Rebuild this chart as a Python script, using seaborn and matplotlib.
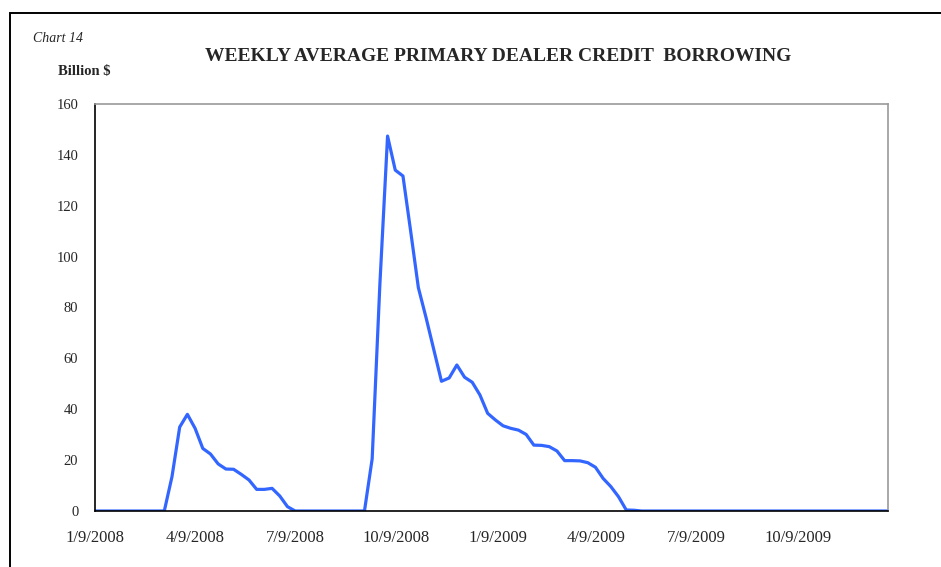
import matplotlib
matplotlib.use("Agg")
import matplotlib.pyplot as plt
import matplotlib.patches as mpatches
import seaborn as sns
import pandas as pd

# weekly averages, Wednesdays from 1/9/2008 to 12/30/2009 (billion $)
week_start = "2008-01-09"
n_weeks = 104
borrowing = (
    [0.0] * 10
    + [13.5, 33.0, 38.0, 32.5, 24.6, 22.4, 18.5, 16.5, 16.4, 14.4,
       12.2, 8.5, 8.5, 8.9, 5.9, 1.7]
    + [0.0] * 10
    + [20.5, 89.0, 147.4, 134.0, 131.7, 110.0, 87.8, 76.0, 63.5, 51.0,
       52.3, 57.4, 52.6, 50.6, 45.6, 38.4, 35.8, 33.5, 32.5, 31.8,
       30.1, 25.9, 25.8, 25.3, 23.6, 19.8, 19.8, 19.7, 19.0, 17.2,
       12.8, 9.6, 5.6, 0.4, 0.3]
    + [0.0] * 33
)
tick_dates = ["2008-01-09", "2008-04-09", "2008-07-09", "2008-10-09",
              "2009-01-09", "2009-04-09", "2009-07-09", "2009-10-09"]
tick_labels = ["1/9/2008", "4/9/2008", "7/9/2008", "10/9/2008",
               "1/9/2009", "4/9/2009", "7/9/2009", "10/9/2009"]

df = pd.DataFrame({
    "week": pd.date_range(week_start, periods=n_weeks, freq="7D"),
    "borrowing": borrowing,
})

sns.set_style("white")
plt.rcParams["font.family"] = ["Liberation Serif", "DejaVu Serif"]

fig = plt.figure(figsize=(9.41, 5.67), dpi=100)
ax = fig.add_axes([95 / 941, 56 / 567, 793 / 941, 407 / 567])

sns.lineplot(data=df, x="week", y="borrowing", color="#3366ff",
             linewidth=2.3, ax=ax)

ax.set_xlim(df["week"].iloc[0], df["week"].iloc[-1])
ax.set_ylim(0, 160)
ax.set_yticks(range(0, 161, 20))
ax.set_xticks(pd.to_datetime(tick_dates))
ax.set_xticklabels(tick_labels)
ax.set_xlabel("")
ax.set_ylabel("")
ax.tick_params(axis="both", direction="out", length=4, width=1,
               color="black")
ax.tick_params(axis="x", pad=10, labelsize=12)
ax.tick_params(axis="y", pad=8, labelsize=10.5)

for side in ["left", "bottom"]:
    ax.spines[side].set_color("black")
    ax.spines[side].set_linewidth(1.2)
for side in ["top", "right"]:
    ax.spines[side].set_color("#999999")
    ax.spines[side].set_linewidth(1.2)

# outer chart frame (runs off the picture at right and bottom)
fig.patches.append(mpatches.Rectangle(
    (10 / 941, -0.1), 1.2, (567 - 13) / 567 + 0.1,
    transform=fig.transFigure, fill=False, edgecolor="black", linewidth=1.4))

fig.text(33 / 941, 1 - 38 / 567, "Chart 14", fontsize=10, style="italic",
         va="center", ha="left")
fig.text(498 / 941, 1 - 57 / 567, "WEEKLY AVERAGE PRIMARY DEALER CREDIT  BORROWING",
         fontsize=14, fontweight="bold", va="center", ha="center")
fig.text(58 / 941, 1 - 72 / 567, "Billion $", fontsize=10.5, fontweight="bold",
         va="center", ha="left")

fig.savefig("out.png", dpi=100)
